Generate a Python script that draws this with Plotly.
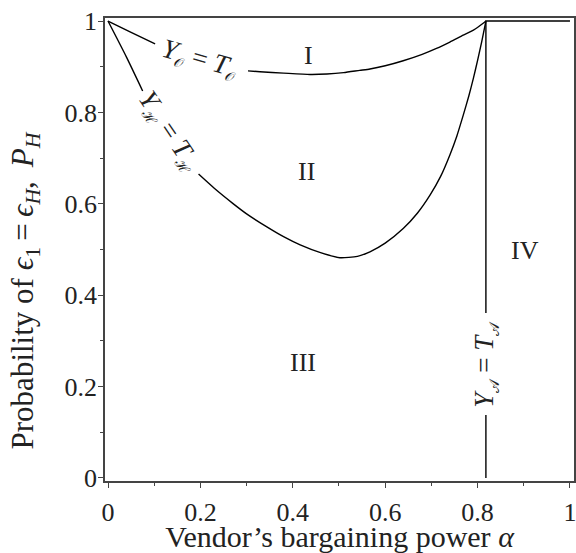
import plotly.graph_objects as go

# boundary Y_O = T_O (gap where the label sits)
alpha_o = [0.0, 0.05, 0.102, None, 0.303, 0.329, 0.38, 0.437, 0.474, 0.51, 0.545, 0.567,
           0.60, 0.639, 0.68, 0.711, 0.740, 0.769, 0.791, 0.812, 0.818]
prob_o = [1.0, 0.975, 0.950, None, 0.891, 0.889, 0.886, 0.883, 0.884, 0.887, 0.892, 0.895,
          0.902, 0.913, 0.927, 0.940, 0.954, 0.969, 0.980, 0.995, 1.0]

# boundary Y_H = T_H
alpha_h = [0.0, 0.04, 0.075, None, 0.196, 0.23, 0.27, 0.30, 0.343, 0.38, 0.416, 0.46, 0.502,
           0.54, 0.567, 0.60, 0.639, 0.67, 0.697, 0.72, 0.740, 0.755, 0.769, 0.781, 0.791,
           0.80, 0.809, 0.818]
prob_h = [1.0, 0.921, 0.847, None, 0.665, 0.634, 0.601, 0.578, 0.550, 0.528, 0.510, 0.493, 0.482,
          0.485, 0.495, 0.514, 0.546, 0.580, 0.619, 0.660, 0.707, 0.748, 0.794, 0.836, 0.875,
          0.914, 0.955, 1.0]

# boundary Y_A = T_A (vertical) and the top edge of region IV
alpha_a = [0.818, 0.818, None, 0.818, 0.818, 1.0]
prob_a = [0.0, 0.138, None, 0.361, 1.0, 1.0]

regions = ["I", "II", "III", "IV"]
region_x = [0.435, 0.430, 0.421, 0.903]
region_y = [0.924, 0.670, 0.252, 0.497]

FONT = "Liberation Serif, Times New Roman, serif"
INK = "#222"


def sub(ch):
    return '<sub><span style="font-size:14px">%s</span></sub>' % ch


fig = go.Figure()
for xs, ys in [(alpha_o, prob_o), (alpha_h, prob_h)]:
    fig.add_trace(go.Scatter(x=xs, y=ys, mode="lines",
                             line=dict(color="black", width=1.4, shape="spline", smoothing=0.6),
                             connectgaps=False, showlegend=False, hoverinfo="skip"))
fig.add_trace(go.Scatter(x=alpha_a, y=prob_a, mode="lines", line=dict(color="black", width=1.4),
                         connectgaps=False, showlegend=False, hoverinfo="skip"))

for name, x, y in zip(regions, region_x, region_y):
    fig.add_annotation(x=x, y=y, text=name, showarrow=False,
                       font=dict(family=FONT, size=26, color=INK))

# curve labels written along the boundaries
fig.add_annotation(x=0.199, y=0.915, text="<i>Y</i>" + sub("𝒪") + " = <i>T</i>" + sub("𝒪"),
                   textangle=16, showarrow=False, font=dict(family=FONT, size=27, color=INK))
fig.add_annotation(x=0.132, y=0.758, text="<i>Y</i>" + sub("ℋ") + " = <i>T</i>" + sub("ℋ"),
                   textangle=56, showarrow=False, font=dict(family=FONT, size=27, color=INK))
fig.add_annotation(x=0.818, y=0.25, text="<i>Y</i>" + sub("𝒜") + " = <i>T</i>" + sub("𝒜"),
                   textangle=-90, showarrow=False, font=dict(family=FONT, size=27, color=INK))

# y-axis title as an annotation so it can sit where the reference has it
fig.add_annotation(xref="paper", x=-0.17, xanchor="center", y=0.411, yanchor="middle",
                   text="Probability of <i>ϵ</i><sub>1</sub>\u2009=\u2009<i>ϵ</i><sub><i>H</i></sub>,\u2009 <i>P</i><sub><i>H</i></sub>",
                   textangle=-90, showarrow=False, font=dict(family=FONT, size=31, color=INK))

axis_common = dict(showline=True, mirror=True, linecolor="#444", linewidth=1.5,
                   ticks="outside", ticklen=5, tickwidth=1, tickcolor="#444",
                   showgrid=False, zeroline=False, dtick=0.2, tick0=0,
                   ticklabeloverflow="allow",
                   minor=dict(ticks="outside", ticklen=3, dtick=0.1, tick0=0, tickcolor="#444"),
                   tickfont=dict(family=FONT, size=26, color=INK))

fig.update_xaxes(range=[-0.0065, 1.0087], ticklabelstandoff=2,
                 title=dict(text="Vendor’s bargaining power <i>α</i>",
                            font=dict(family=FONT, size=30, color=INK), standoff=2),
                 **axis_common)
fig.update_yaxes(range=[-0.0066, 1.0066], ticklabelstandoff=-4, **axis_common)

fig.update_layout(width=576, height=553, margin=dict(l=105, r=2, t=18, b=72, autoexpand=False),
                  plot_bgcolor="white", paper_bgcolor="white")

# drop the browser's default 8px body margin so the figure fills the window exactly
fig.write_html("out.html", config={"displayModeBar": False},
               post_script="document.body.style.margin='0px';document.body.style.overflow='hidden';")
